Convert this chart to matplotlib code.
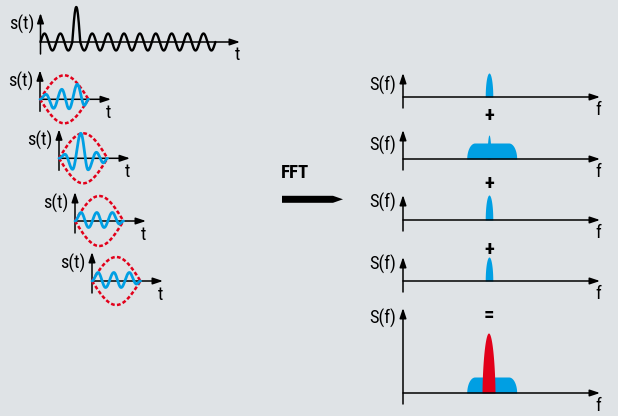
import numpy as np
import matplotlib
matplotlib.use("Agg")
import matplotlib.pyplot as plt
from matplotlib import font_manager
from matplotlib.patches import Polygon

# ---------------- data ----------------
time_axis_label = "s(t)"
time_var = "t"
spec_axis_label = "S(f)"
freq_var = "f"
transform_label = "FFT"
operators = ["+", "+", "+", "="]

# full time signal: amplitude of every half cycle (pulse is the 5th)
top_half_cycle_amps = [8.5, -8.5, 8.5, -8.5, 35, -8.5, 8.5, -8.5, 8.5, -8.5, 8.5,
                       -8.5, 8.5, -8.5, 8.5, -8.5, 8.5, -8.5, 8.5, -8.5, 8.5, -8.5]

# windowed segments: extremum positions (fraction of window) and amplitudes
window_extrema_pos = [0.0, 0.125, 0.28, 0.45, 0.60, 0.77, 0.915, 1.0]
window_amps = [
    [0, 5, -9, 10, -9.5, 15, -6, 0],
    [0, 4, -11, 25, -11.5, 6, -4.5, 0],
    [0, 8.5, -6.5, 8.5, -6.5, 8.5, -3, 0],
    [0, 8.5, -6.5, 8.5, -6.5, 8.5, -3, 0],
]
window_envelope_amp = [24, 25, 25, 24]

# spectra (heights)
line_heights = [24, 24, 25, 24]
band_heights = [0, 16, 0, 0]
sum_band_height = 16
sum_line_height = 60

# ---------------- style / layout ----------------
BG = "#dfe3e6"
BLUE = "#009fe3"
RED = "#e2001a"

avail = {f.name for f in font_manager.fontManager.ttflist}
fam = None
for cand in ["Liberation Sans Narrow", "Roboto Condensed", "Liberation Sans", "DejaVu Sans"]:
    if cand in avail:
        fam = cand
        break
plt.rcParams["font.family"] = [fam, "DejaVu Sans"]

fig = plt.figure(figsize=(6.18, 4.16), dpi=100, facecolor=BG)
ax = fig.add_axes([0, 0, 1, 1])
ax.set_xlim(0, 618)
ax.set_ylim(416, 0)
ax.axis("off")
ax.set_facecolor(BG)

FS = 13.2
AX_LW = 1.1


def arrow(x0, y0, x1, y1):
    ax.annotate("", xy=(x1, y1), xytext=(x0, y0),
                arrowprops=dict(arrowstyle="-|>,head_length=0.6,head_width=0.2",
                                lw=AX_LW, color="black", shrinkA=0, shrinkB=0))


def time_axes(ox, oy, xtip):
    arrow(ox, oy + 12, ox, oy - 29)
    arrow(ox, oy, xtip, oy)
    ax.text(ox - 6.5, oy - 12.5, time_axis_label, ha="right", va="baseline", fontsize=FS)
    ax.text(xtip - 2, oy + 18.5, time_var, ha="center", va="baseline", fontsize=FS)


def cos_interp(xk, yk, n=600):
    xk = np.asarray(xk, float)
    yk = np.asarray(yk, float)
    x = np.linspace(xk[0], xk[-1], n)
    idx = np.clip(np.searchsorted(xk, x, side="right") - 1, 0, len(xk) - 2)
    u = (x - xk[idx]) / (xk[idx + 1] - xk[idx])
    y = yk[idx] + (yk[idx + 1] - yk[idx]) * (1 - np.cos(np.pi * u)) / 2
    return x, y


# ---- top full signal ----
tox, toy = 40.5, 42
hw = 7.95
time_axes(tox, toy, 240)
xs, ys = [], []
for i, a in enumerate(top_half_cycle_amps):
    u = np.linspace(0, 1, 40)
    xs.append(tox + (i + u) * hw)
    ys.append(toy - a * np.sin(np.pi * u))
ax.plot(np.concatenate(xs), np.concatenate(ys), color="black", lw=1.7,
        solid_capstyle="round", zorder=3)

# ---- windowed segments ----
win_origins = [(40, 99.3), (59, 158.3), (75, 221), (92, 281)]
win_w = 48.5
for (ox, oy), amps, env in zip(win_origins, window_amps, window_envelope_amp):
    time_axes(ox, oy, ox + 71)
    xe = np.linspace(ox, ox + win_w, 200)
    ev = env * np.sin(np.pi * (xe - ox) / win_w)
    ax.plot(xe, oy - ev, color=RED, lw=1.8, ls=(0, (1.5, 0.9)), zorder=3)
    ax.plot(xe, oy + ev, color=RED, lw=1.8, ls=(0, (1.5, 0.9)), zorder=3)
    xk = [ox + p * win_w for p in window_extrema_pos]
    x, y = cos_interp(xk, amps)
    ax.plot(x, oy - y, color=BLUE, lw=2.0, zorder=4, solid_capstyle="round")

# ---- FFT arrow ----
ax.text(295.5, 178, transform_label, ha="center", va="baseline", fontsize=13.5,
        fontweight="bold")
ax.add_patch(Polygon([(282, 195.8), (333, 195.8), (343, 199.3), (333, 202.8), (282, 202.8)],
                     closed=True, color="black", lw=0))

# ---- spectra ----
sox = 403
spec_axis_y = [97, 159, 220, 281, 393]
spec_tips = [73, 130, 195, 257, 308]
spec_label_base = [91, 151, 208, 270, 324]
line_cx = 489
band_cx, band_hw, band_rx = 491.7, 25, 8


def line_shape(h, half, power=0.5):
    x = np.linspace(-half, half, 200)
    y = h * np.clip(1 - (x / half) ** 2, 0, None) ** power
    return x, y


def band_shape(h):
    x = np.linspace(-band_hw, band_hw, 400)
    d = np.abs(x) - (band_hw - band_rx)
    y = np.where(d <= 0, h, h * np.sqrt(np.clip(1 - (d / band_rx) ** 2, 0, None)))
    return x, y


for i, oy in enumerate(spec_axis_y):
    arrow(sox, oy + 11, sox, spec_tips[i])
    arrow(sox, oy, 600, oy)
    ax.text(sox - 6.5, spec_label_base[i], spec_axis_label, ha="right", va="baseline",
            fontsize=FS)
    ax.text(598.3, oy + 18, freq_var, ha="center", va="baseline", fontsize=FS)

for i in range(4):
    oy = spec_axis_y[i]
    if band_heights[i] > 0:
        bx, by = band_shape(band_heights[i])
        ax.fill_between(bx + band_cx, oy, oy - by, color=BLUE, lw=0, zorder=2)
        lx, ly = line_shape(line_heights[i], 1.9)
    else:
        lx, ly = line_shape(line_heights[i], 3.8)
    ax.fill_between(lx + line_cx, oy, oy - ly, color=BLUE, lw=0, zorder=2)

oy = spec_axis_y[4]
bx, by = band_shape(sum_band_height)
ax.fill_between(bx + band_cx, oy, oy - by, color=BLUE, lw=0, zorder=2)
lx, ly = line_shape(sum_line_height, 6.5, power=0.6)
ax.fill_between(lx + 488.5, oy, oy - ly, color=RED, lw=0, zorder=2)

op_y = [116, 183, 250, 316]
for s, y in zip(operators, op_y):
    ax.text(489, y, s, ha="center", va="center", fontsize=15, fontweight="bold")

fig.savefig("out.png", dpi=100, facecolor=BG)
